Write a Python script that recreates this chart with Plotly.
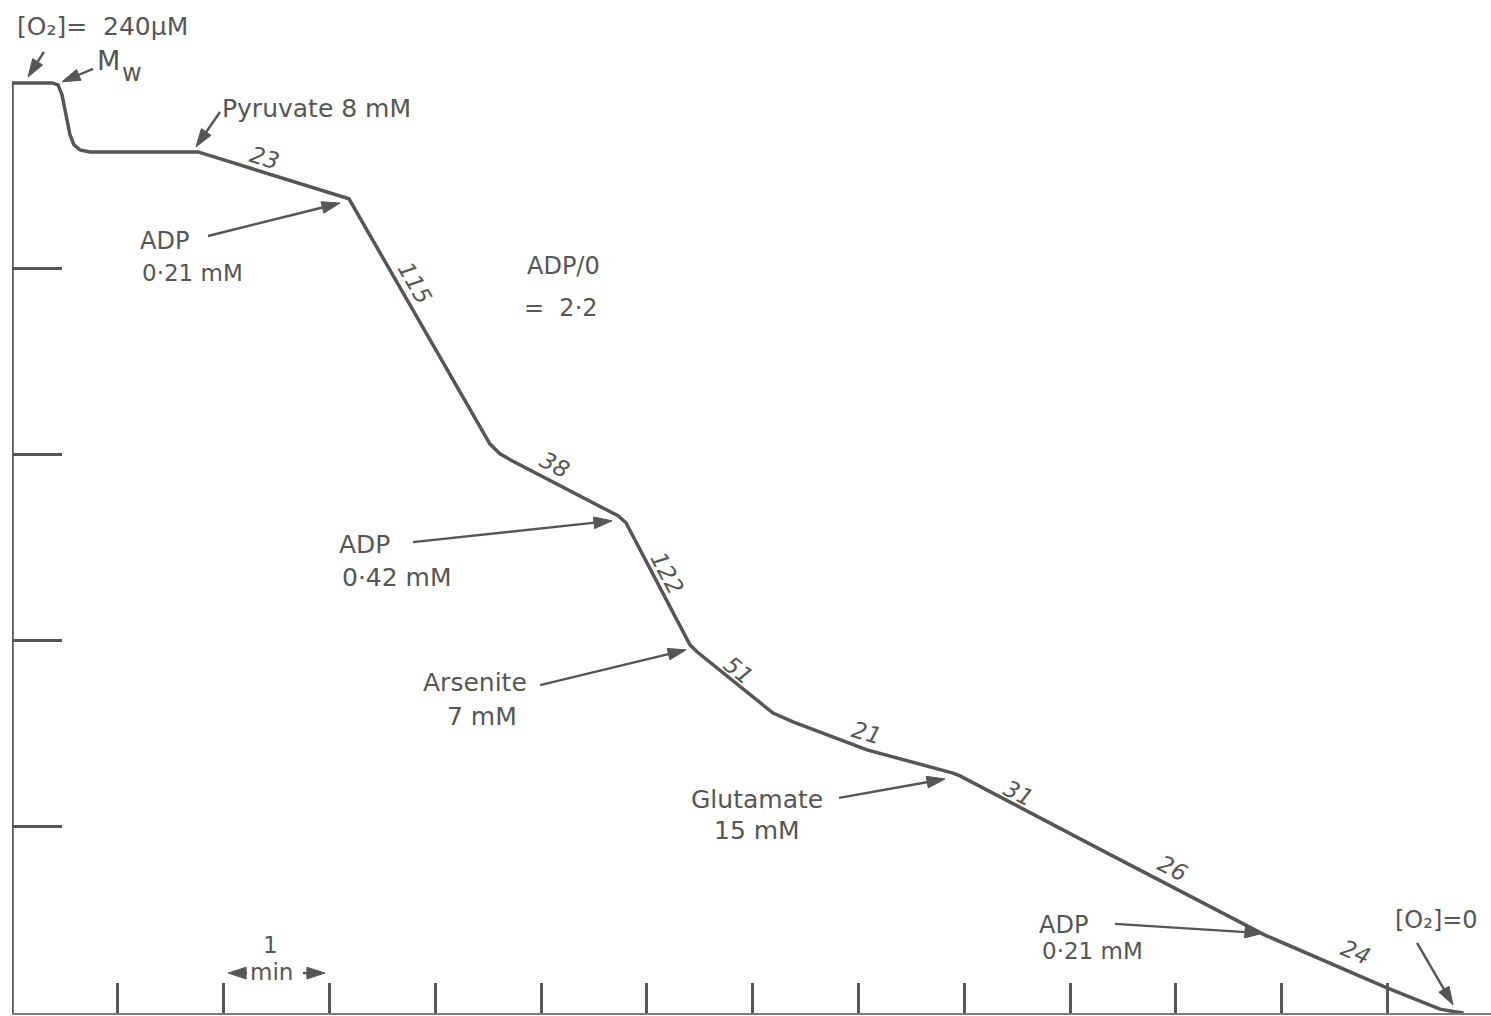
import plotly.graph_objects as go

# Oxygen electrode trace: time (min) vs dissolved O2 (µM)
time_min = [0.000, 0.378, 0.435, 0.473, 0.548, 0.586, 0.643, 0.737, 1.758,
            3.185, 4.518, 4.612, 4.726, 5.728, 5.803, 6.408, 6.474, 7.193,
            7.382, 8.081, 8.894, 8.960, 10.28, 11.843, 12.996, 13.497, 13.639, 13.72]
o2_uM = [240.0, 240.0, 239.5, 236.9, 226.6, 224.0, 222.7, 222.2, 222.2,
         210.1, 146.8, 144.3, 142.5, 128.3, 126.5, 95.0, 93.2, 77.4,
         75.1, 67.9, 61.9, 61.2, 42.3, 20.1, 6.5, 1.0, 0.3, 0.0]

# Recorder baseline (vertical O2 scale at t = 0)
scale_t = [0.0, 0.0]
scale_o2 = [0.0, 240.0]

# Chart-paper divisions
time_ticks = [1, 2, 3, 4, 5, 6, 7, 8, 9, 10, 11, 12, 13]
o2_ticks = [48, 96, 144, 192]

# Respiration rates written along each segment
rate_labels = ["23", "115", "38", "122", "51", "21", "31", "26", "24"]
rate_t = [2.391, 3.809, 5.132, 6.191, 6.862, 8.081, 9.509, 10.964, 12.694]
rate_o2 = [220.6, 188.4, 141.4, 113.5, 88.5, 72.3, 56.8, 37.4, 15.7]
rate_angle = [17, 60, 28, 62, 39, 16, 27, 27, 23]

INK = "#565656"
FONT = "DejaVu Sans"

fig = go.Figure()
fig.add_trace(go.Scatter(x=scale_t, y=scale_o2, mode="lines",
                         line=dict(color=INK, width=3.5), cliponaxis=False,
                         hoverinfo="skip", showlegend=False))
fig.add_trace(go.Scatter(x=time_min, y=o2_uM, mode="lines",
                         line=dict(color=INK, width=3.5), cliponaxis=False,
                         showlegend=False))

# pointer arrows: (tip t, tip o2, tail t, tail o2)
arrows = [
    (0.151, 241.5, 0.302, 248.0),
    (0.473, 240.3, 0.766, 243.6),
    (1.739, 223.5, 1.966, 232.5),
    (3.100, 209.0, 1.853, 200.5),
    (5.671, 127.0, 3.790, 121.5),
    (6.371, 93.7, 4.991, 84.6),
    (8.819, 60.4, 7.817, 55.5),
    (11.824, 20.6, 10.425, 23.0),
    (13.620, 2.1, 13.280, 18.1),
    (2.042, 10.3, 2.221, 10.3),
    (2.958, 10.3, 2.750, 10.3),
]
for xt, yt, xs, ys in arrows:
    fig.add_trace(go.Scatter(
        x=[xs, xt], y=[ys, yt], mode="lines+markers",
        line=dict(color=INK, width=2.4),
        marker=dict(symbol="arrow", size=[0, 19], angleref="previous", color=INK,
                    opacity=1, line=dict(color=INK, width=1)),
        cliponaxis=False, hoverinfo="skip", showlegend=False))

annotations = []

# rate numbers
for txt, t, o, a in zip(rate_labels, rate_t, rate_o2, rate_angle):
    annotations.append(dict(x=t, y=o, xref="x", yref="y", text="<i>" + txt + "</i>",
                            showarrow=False, textangle=a,
                            font=dict(family=FONT, size=23, color=INK)))

# text labels: (text, t, o2, xanchor, size)
labels = [
    ("[O₂]=  240µM", 0.028, 254.5, "left", 25),
    ("M", 0.784, 245.8, "left", 27),
    ("w", 1.020, 242.6, "left", 24),
    ("Pyruvate 8 mM", 1.966, 233.5, "left", 25),
    ("ADP", 1.191, 199.2, "left", 24),
    ("0·21 mM", 1.210, 191.0, "left", 23),
    ("ADP/0", 5.577, 192.8, "right", 24),
    ("=  2·2", 5.558, 181.9, "right", 24),
    ("ADP", 3.072, 120.8, "left", 25),
    ("0·42 mM", 3.100, 112.5, "left", 25),
    ("Arsenite", 4.376, 85.2, "center", 25),
    ("7 mM", 4.442, 76.6, "center", 25),
    ("Glutamate", 7.042, 55.2, "center", 25),
    ("15 mM", 7.042, 47.0, "center", 25),
    ("ADP", 9.688, 22.7, "left", 24),
    ("0·21 mM", 9.716, 16.0, "left", 23),
    ("[O₂]=0", 13.053, 24.0, "left", 24),
    ("1", 2.439, 17.5, "center", 23),
    ("min", 2.457, 10.6, "center", 23),
]
for txt, t, o, xa, sz in labels:
    annotations.append(dict(x=t, y=o, xref="x", yref="y", text=txt, showarrow=False,
                            xanchor=xa, yanchor="middle",
                            font=dict(family=FONT, size=sz, color=INK)))

fig.update_layout(
    width=1491, height=1016,
    margin=dict(l=12, r=0, t=0, b=3),
    paper_bgcolor="white", plot_bgcolor="white",
    annotations=annotations,
    xaxis=dict(range=[0, 13.979], tickvals=time_ticks, ticks="inside", ticklen=30,
               tickwidth=2.5, tickcolor=INK, showticklabels=False, showgrid=False,
               zeroline=False, showline=True, linecolor="#7a7a7a", linewidth=2),
    yaxis=dict(range=[0, 261.4], tickvals=o2_ticks, ticks="inside", ticklen=50,
               tickwidth=2.5, tickcolor=INK, showticklabels=False, showgrid=False,
               zeroline=False, showline=False),
)

fig.write_html("out.html")
